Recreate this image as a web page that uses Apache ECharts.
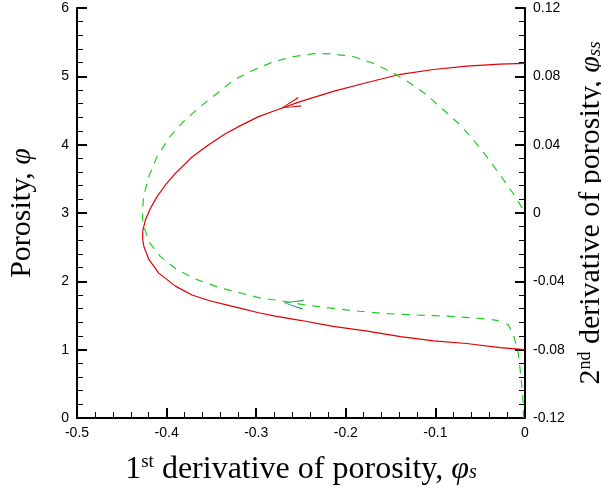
<!DOCTYPE html>
<html><head><meta charset="utf-8">
<script src="https://cdn.jsdelivr.net/npm/echarts@6/dist/echarts.min.js"></script>
<style>html,body{margin:0;padding:0;background:#fff;overflow:hidden}#c{width:601px;height:493px}</style>
</head><body><div id="c"></div>
<script>
// phi (left axis) vs phi_s
const redPhiS = [0, -0.028, -0.065, -0.102, -0.139, -0.176, -0.214, -0.251, -0.2787, -0.2973, -0.3159, -0.3344, -0.353, -0.3716, -0.3902, -0.4087, -0.4198, -0.4254, -0.4268, -0.4265, -0.4236, -0.418, -0.4106, -0.4013, -0.3902, -0.3716, -0.353, -0.3344, -0.3159, -0.2973, -0.2787, -0.251, -0.214, -0.176, -0.139, -0.102, -0.065, -0.028, 0];
const redPhi  = [1.00, 1.03, 1.09, 1.13, 1.19, 1.27, 1.34, 1.43, 1.49, 1.54, 1.60, 1.66, 1.72, 1.80, 1.93, 2.12, 2.32, 2.51, 2.63, 2.75, 2.90, 3.07, 3.24, 3.41, 3.58, 3.82, 4.00, 4.16, 4.29, 4.41, 4.50, 4.63, 4.78, 4.91, 5.03, 5.10, 5.15, 5.18, 5.19];
// phi_ss (right axis) vs phi_s
const greenPhiS = [-0.0015, -0.0025, -0.0037, -0.0056, -0.0075, -0.013, -0.0186, -0.0316, -0.054, -0.0836, -0.121, -0.158, -0.195, -0.232, -0.251, -0.273, -0.295, -0.318, -0.340, -0.366, -0.3885, -0.407, -0.420, -0.4264, -0.427, -0.4257, -0.420, -0.4107, -0.396, -0.381, -0.3623, -0.3437, -0.325, -0.303, -0.2805, -0.2583, -0.236, -0.2174, -0.1914, -0.169, -0.1467, -0.1282, -0.1096, -0.0911, -0.0725, -0.0576, -0.0427, -0.0279, -0.0148, -0.0019, 0];
const greenPhiSS = [-0.12, -0.108, -0.1005, -0.0907, -0.082, -0.0712, -0.0654, -0.0628, -0.0615, -0.0605, -0.0597, -0.0588, -0.057, -0.0547, -0.0533, -0.0513, -0.0498, -0.0468, -0.0439, -0.039, -0.0332, -0.0254, -0.0167, -0.0059, 0.0, 0.0097, 0.0213, 0.033, 0.0448, 0.0536, 0.0623, 0.070, 0.0779, 0.0837, 0.0886, 0.0915, 0.0933, 0.0932, 0.0915, 0.0876, 0.0818, 0.076, 0.0691, 0.0604, 0.0516, 0.0428, 0.033, 0.0224, 0.0126, 0.002, 0];
// direction arrows [phi_s, value]
const redArrow = [-0.262, 4.58];
const greenArrow = [-0.2586, -0.0531];

const chevron = 'path://M0,5 L20,0 L20,1.3 L2.6,5 L20,8.7 L20,10 Z';
const serif = '"Liberation Serif", "DejaVu Serif", serif';
const sans = '"Liberation Sans", Arial, sans-serif';

const axisCommon = {
  axisLine: {show: true, onZero: false, lineStyle: {color: '#000', width: 2}},
  axisTick: {show: true, inside: true, length: 10, lineStyle: {color: '#000', width: 2}},
  minorTick: {show: true, splitNumber: 5, length: 6, lineStyle: {color: '#000', width: 1}},
  splitLine: {show: false},
  axisLabel: {color: '#000', fontFamily: sans, fontSize: 14},
};
function richFor(sz) {
  return {
    sup: {fontFamily: serif, fontSize: Math.round(sz * 0.6), color: '#000', padding: [0, 0, Math.round(sz * 0.43), 0]},
    it: {fontFamily: serif, fontSize: sz, fontStyle: 'italic', color: '#000'},
    sub: {fontFamily: serif, fontSize: Math.round(sz * 0.63), fontStyle: 'italic', color: '#000', padding: [0, 0, -Math.round(sz * 0.23), 0]},
    n: {fontFamily: serif, fontSize: sz, color: '#000'}
  };
}

const chart = echarts.init(document.getElementById('c'), null, {renderer: 'canvas'});
chart.setOption({
  animation: false,
  backgroundColor: '#fff',
  grid: {left: 77, right: 76, top: 8, bottom: 75, containLabel: false, outerBoundsMode: 'none'},
  xAxis: Object.assign({}, axisCommon, {
    type: 'value', min: -0.5, max: 0, interval: 0.1,
    name: '{n|1}{sup|st}{n| derivative of porosity, }{it|φ}{sub|s}',
    nameLocation: 'middle', nameGap: 35,
    nameTextStyle: {rich: richFor(32), fontFamily: serif, fontSize: 32, color: '#000'}
  }),
  yAxis: [
    Object.assign({}, axisCommon, {
      type: 'value', min: 0, max: 6, interval: 1, position: 'left',
      name: '{n|Porosity, }{it|φ}',
      nameLocation: 'middle', nameGap: 40, nameRotate: 90,
      nameTextStyle: {rich: richFor(30), fontFamily: serif, fontSize: 30, color: '#000'}
    }),
    Object.assign({}, axisCommon, {
      type: 'value', min: -0.12, max: 0.12, interval: 0.04, position: 'right',
      name: '{n|2}{sup|nd}{n| derivative of porosity, }{it|φ}{sub|ss}',
      nameLocation: 'middle', nameGap: 26, nameRotate: 90,
      nameTextStyle: {rich: richFor(30), fontFamily: serif, fontSize: 30, color: '#000'}
    })
  ],
  series: [
    {
      type: 'line', xAxisIndex: 0, yAxisIndex: 0,
      data: redPhiS.map((x, i) => [x, redPhi[i]]),
      showSymbol: false, smooth: false, silent: true,
      lineStyle: {color: '#e00000', width: 1.2},
      markPoint: {
        silent: true, label: {show: false},
        data: [{coord: redArrow, symbol: chevron, symbolSize: [20, 10], symbolRotate: 19,
                itemStyle: {color: '#d40000'}, label: {show: false}}]
      }
    },
    {
      type: 'line', xAxisIndex: 0, yAxisIndex: 1,
      data: greenPhiS.map((x, i) => [x, greenPhiSS[i]]),
      showSymbol: false, smooth: false, silent: true,
      lineStyle: {color: '#22cc22', width: 1.2, type: [8, 7]},
      markPoint: {
        silent: true, label: {show: false},
        data: [{coord: greenArrow, symbol: chevron, symbolSize: [20, 10], symbolRotate: -6,
                itemStyle: {color: '#119955'}, label: {show: false}}]
      }
    }
  ]
});
</script></body></html>
